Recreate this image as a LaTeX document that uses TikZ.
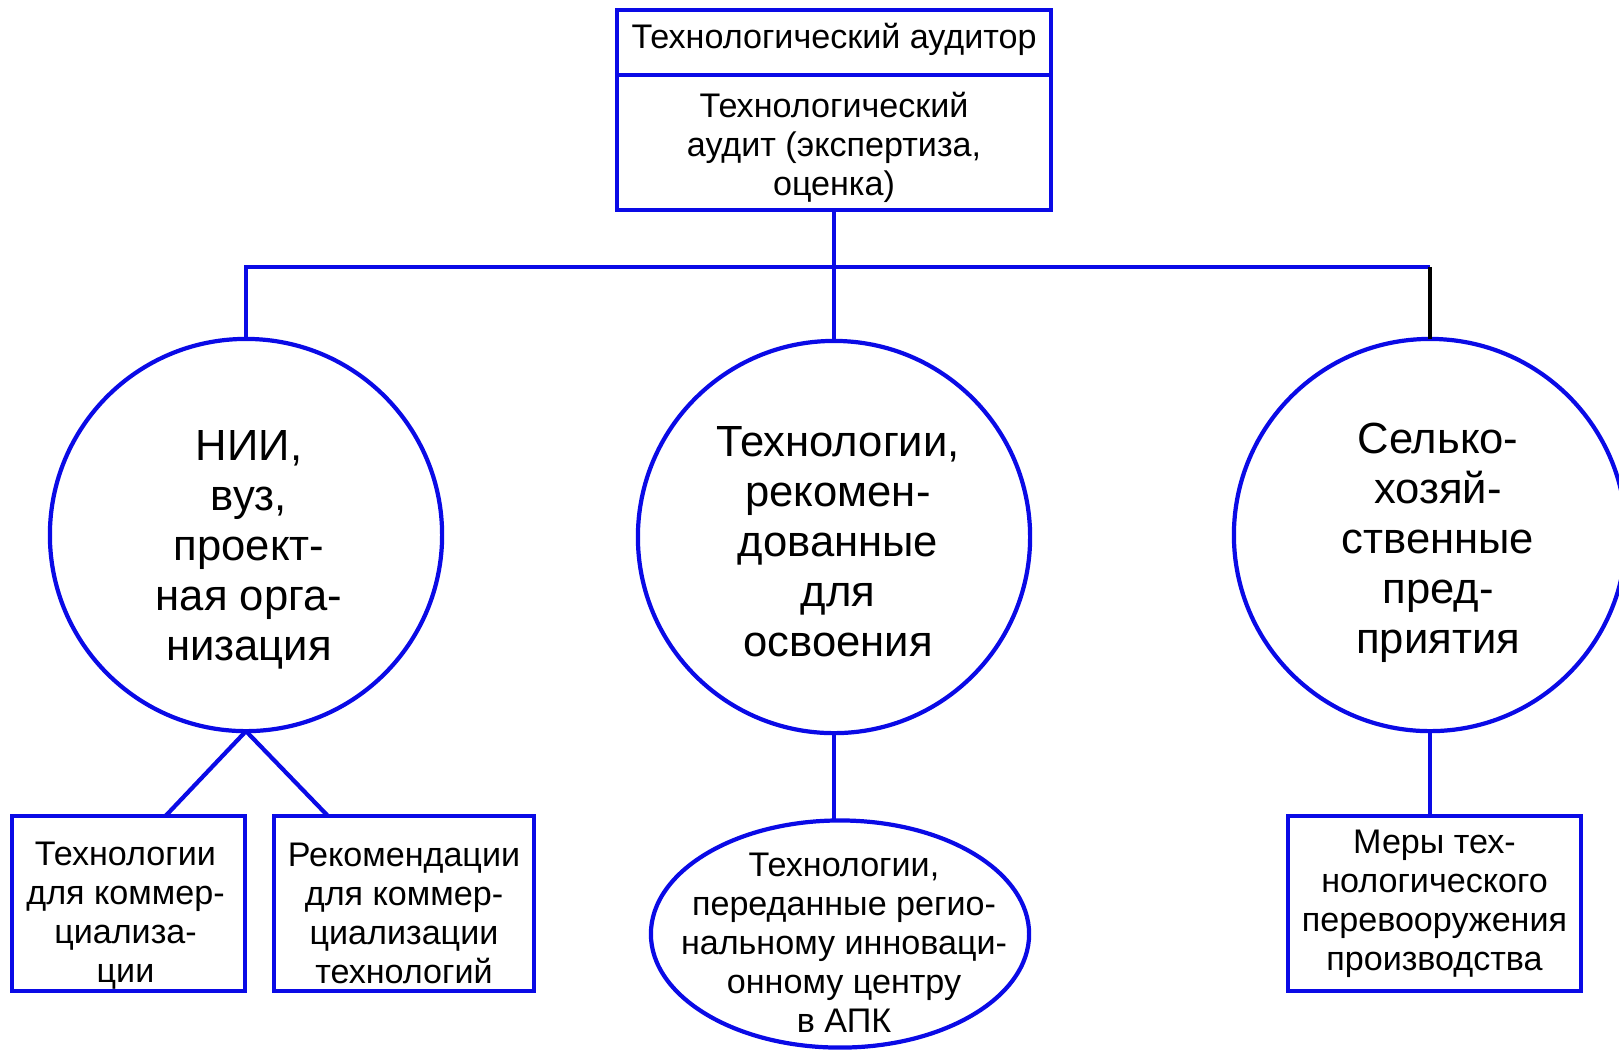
\documentclass[tikz,border=0pt]{standalone}
\usepackage{fontspec}
\setmainfont{Liberation Sans}
\usetikzlibrary{shapes.geometric, positioning, calc}
\definecolor{lineblue}{RGB}{10,10,230}

\begin{document}
\begin{tikzpicture}[x=0.01cm, y=-0.01cm,
    box/.style={draw=lineblue, line width=1.2pt, inner sep=0pt, outer sep=0pt},
    disc/.style={circle, draw=lineblue, line width=1.2pt, minimum size=3.92cm, inner sep=0pt, outer sep=0pt},
    small/.style={align=center, inner sep=0pt, font=\fontsize{9.7}{11.1}\selectfont},
    big/.style={align=center, inner sep=0pt, font=\fontsize{12.4}{14.2}\selectfont},
    link/.style={lineblue, line width=1.2pt}]
    \useasboundingbox (0,0) rectangle (1619,1050);

    \node[box, minimum width=4.34cm, minimum height=0.65cm,
        label={[small, yshift=0.03cm]center:Технологический аудитор}] (auditor) at (834,42.5) {};
    \node[box, minimum width=4.34cm, minimum height=1.35cm, below=0pt of auditor,
        label={[small, yshift=-0.05cm]center:{Технологический\\аудит (экспертиза,\\оценка)}}] (audit) {};

    \node[disc, label={[big, xshift=0.03cm, yshift=-0.15cm]center:{НИИ,\\вуз,\\проект-\\ная орга-\\низация}}] (nii) at (246,535) {};
    \node[disc, label={[big, xshift=0.04cm, yshift=-0.05cm]center:{Технологии,\\рекомен-\\дованные\\для\\освоения}}] (tech) at (834,537) {};
    \node[disc, label={[big, xshift=0.08cm, yshift=-0.08cm]center:{Селько-\\хозяй-\\ственные\\пред-\\приятия}}] (farm) at (1430,535) {};

    \node[box, minimum width=2.33cm, minimum height=1.75cm,
        label={[small, xshift=-0.03cm, yshift=-0.12cm]center:{Технологии\\для коммер-\\циализа-\\ции}}] (comm) at (128.5,903.5) {};
    \node[box, minimum width=2.6cm, minimum height=1.75cm,
        label={[small, yshift=-0.1cm]center:{Рекомендации\\для коммер-\\циализации\\технологий}}] (recs) at (404,903.5) {};
    \node[box, ellipse, minimum width=3.78cm, minimum height=2.27cm,
        label={[small, xshift=0.04cm, yshift=-0.09cm]center:{Технологии,\\переданные регио-\\нальному инноваци-\\онному центру\\в АПК}}] (ric) at (840,934) {};
    \node[box, minimum width=2.93cm, minimum height=1.75cm,
        label={[small]center:{Меры тех-\\нологического\\перевооружения\\производства}}] (rearm) at (1434.5,903.5) {};

    \coordinate (fork) at (834,267);
    \coordinate (corner) at (fork -| farm.north);
    \draw[link] (audit.south) -- (tech.north);
    \draw[link] (nii.north) |- (fork) -- (corner);
    \draw[black, line width=1.2pt] (corner) -- (farm.north);

    \draw[link] (nii.south) -- ([xshift=0.37cm]comm.north);
    \draw[link] (nii.south) -- ([xshift=-0.76cm]recs.north);
    \draw[link] (tech.south) -- (tech.south |- ric.north);
    \draw[link] (farm.south) -- (farm.south |- rearm.north);
\end{tikzpicture}
\end{document}
